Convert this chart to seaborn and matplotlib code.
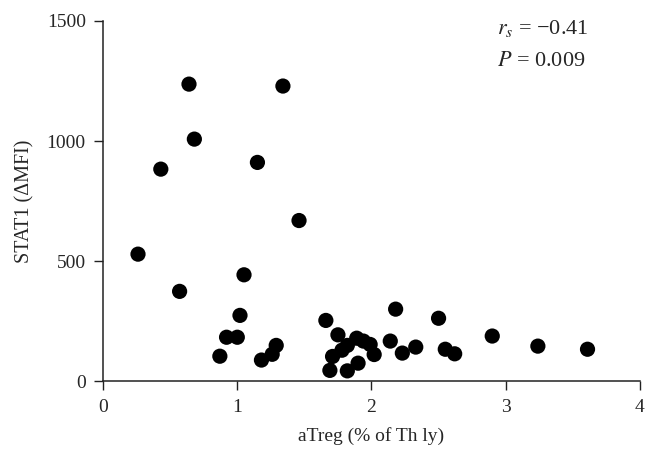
import numpy as np
import pandas as pd
import matplotlib
matplotlib.use("Agg")
import matplotlib.pyplot as plt
import seaborn as sns

# values
atreg = [0.26, 0.43, 0.57, 0.64, 0.68, 0.87, 0.92, 1.00, 1.02, 1.05,
         1.15, 1.18, 1.26, 1.29, 1.34, 1.46, 1.66, 1.69, 1.71, 1.75,
         1.78, 1.82, 1.82, 1.89, 1.90, 1.94, 1.99, 2.02, 2.14, 2.18,
         2.23, 2.33, 2.50, 2.55, 2.62, 2.90, 3.24, 3.61]
stat1 = [529, 883, 374, 1237, 1008, 104, 183, 183, 274, 443,
         911, 88, 112, 149, 1229, 669, 253, 45, 103, 193,
         129, 149, 43, 179, 75, 167, 153, 111, 167, 300,
         117, 142, 262, 133, 114, 188, 146, 133]

x_ticks = [0, 1, 2, 3, 4]
y_ticks = [0, 500, 1000, 1500]

df = pd.DataFrame({"atreg": atreg, "stat1": stat1})

sns.set_theme(style="ticks")
plt.rcParams["font.family"] = ["Liberation Serif", "DejaVu Serif"]
plt.rcParams["mathtext.fontset"] = "stix"

fig = plt.figure(figsize=(6.61, 4.66), dpi=100)
ax = fig.add_axes([0.156, 0.182, 0.812, 0.773])

sns.scatterplot(data=df, x="atreg", y="stat1", color="black",
                s=120, edgecolor="none", ax=ax, clip_on=False, zorder=3)

ax.set_xlim(0, 4)
ax.set_ylim(0, 1500)
ax.set_xticks(x_ticks)
ax.set_yticks(y_ticks)
ax.tick_params(labelsize=14, width=1, length=6.5, pad=6, color="#222222")
for s in ["left", "bottom"]:
    ax.spines[s].set_linewidth(1.1)
    ax.spines[s].set_color("#222222")
sns.despine(ax=ax)

ax.set_xlabel("aTreg (% of Th ly)", fontsize=14, labelpad=8)
ax.set_ylabel("STAT1 (ΔMFI)", fontsize=14.5, labelpad=9)

ax.text(0.734, 0.978, r"$r_s$ = −0.41", transform=ax.transAxes, fontsize=16,
        va="center", ha="left")
ax.text(0.734, 0.887, r"$P$ = 0.009", transform=ax.transAxes, fontsize=16,
        va="center", ha="left")

fig.savefig("out.png", dpi=100)
